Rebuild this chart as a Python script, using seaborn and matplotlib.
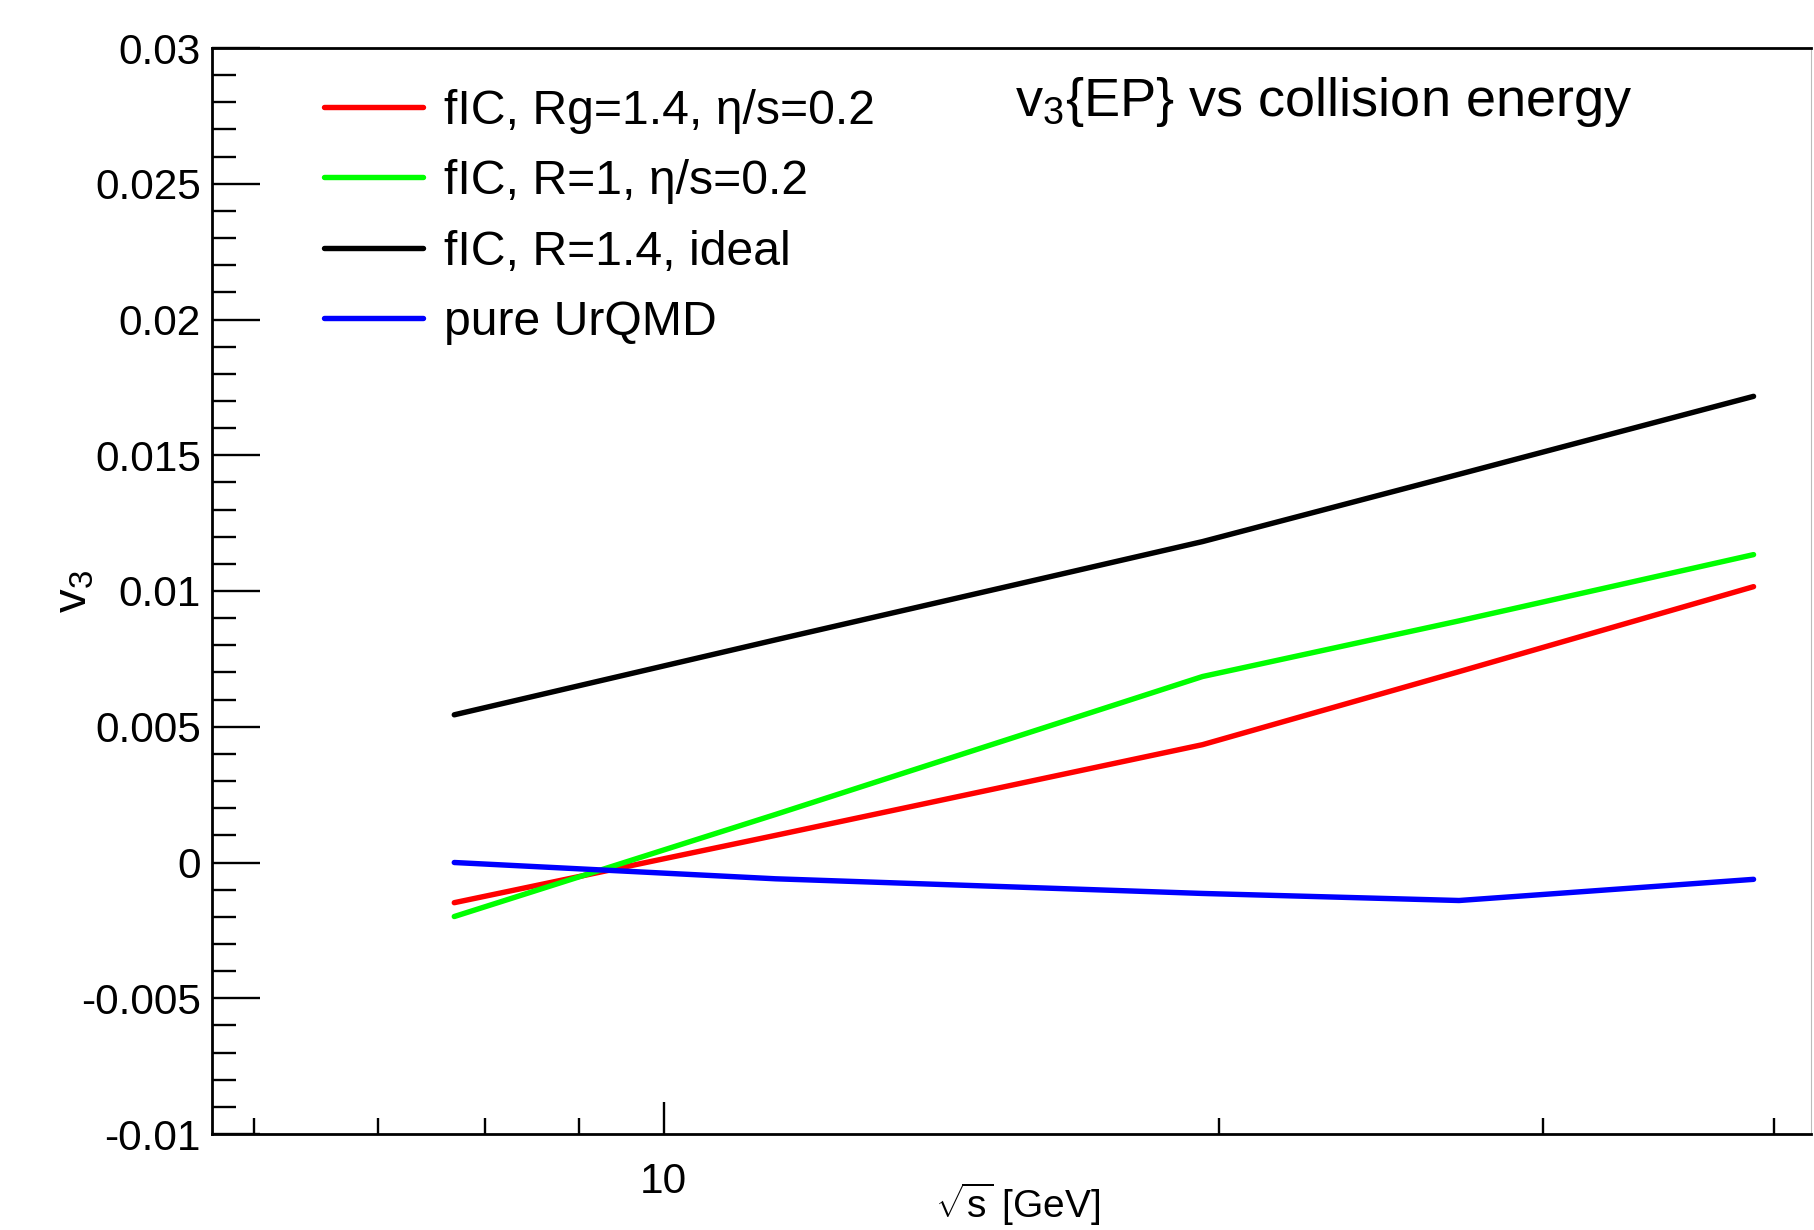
import numpy as np
import pandas as pd
import matplotlib
matplotlib.use("Agg")
import matplotlib.pyplot as plt
from matplotlib.ticker import FixedLocator, FixedFormatter, NullFormatter
import seaborn as sns

# ---- data ----
energy = [7.7, 11.5, 19.6, 27.0, 39.0]
v3_rg14_visc = [-0.00148, 0.00100, 0.00434, 0.00703, 0.01016]
v3_r1_visc = [-0.00199, 0.00177, 0.00685, 0.00890, 0.01134]
v3_r14_ideal = [0.00544, 0.00820, 0.01182, 0.01430, 0.01717]
v3_urqmd = [0.00000, -0.00060, -0.00114, -0.00140, -0.00062]

series_labels = ["fIC, Rg=1.4, η/s=0.2", "fIC, R=1, η/s=0.2",
                 "fIC, R=1.4, ideal", "pure UrQMD"]
series_colors = ["#ff0000", "#00ff00", "#000000", "#0000ff"]

y_major = [-0.01, -0.005, 0.0, 0.005, 0.01, 0.015, 0.02, 0.025, 0.03]
y_major_labels = ["-0.01", "-0.005", "0", "0.005", "0.01", "0.015", "0.02", "0.025", "0.03"]
x_major = [10]
x_major_labels = ["10"]
x_minor = [6, 7, 8, 9, 20, 30, 40]

title_text = r"v$_3${EP} vs collision energy"
xlabel_text = r"$\sqrt{s}$ [GeV]"
ylabel_text = r"v$_3$"

# ---- style ----
sns.set_theme(style="white")
plt.rcParams["font.family"] = ["Liberation Sans", "DejaVu Sans"]
plt.rcParams["mathtext.fontset"] = "custom"
plt.rcParams["mathtext.rm"] = "Liberation Sans"
plt.rcParams["mathtext.it"] = "Liberation Sans:italic"
plt.rcParams["mathtext.default"] = "regular"
plt.rcParams["text.color"] = "black"
plt.rcParams["axes.labelcolor"] = "black"
plt.rcParams["xtick.color"] = "black"
plt.rcParams["ytick.color"] = "black"

W, H = 1814, 1230
fig = plt.figure(figsize=(W / 100, H / 100), dpi=100)
fig.patch.set_facecolor("white")
ax = fig.add_axes([212 / W, 1 - 1134 / H, 1599 / W, 1086 / H])
ax.set_facecolor("white")

all_y = [v3_rg14_visc, v3_r1_visc, v3_r14_ideal, v3_urqmd]
frames = []
for lab, ys in zip(series_labels, all_y):
    frames.append(pd.DataFrame({"energy": energy, "v3": ys, "model": lab}))
df = pd.concat(frames, ignore_index=True)

sns.lineplot(data=df, x="energy", y="v3", hue="model", hue_order=series_labels,
             palette=series_colors, linewidth=3.9, sort=False, estimator=None,
             legend=False, ax=ax)

ax.set_xscale("log")
ax.set_xlim(5.69, 41.9)
ax.set_ylim(-0.01, 0.03)

# ticks
ax.yaxis.set_major_locator(FixedLocator(y_major))
ax.yaxis.set_major_formatter(FixedFormatter(y_major_labels))
ax.yaxis.set_minor_locator(FixedLocator(list(np.arange(-0.01, 0.0301, 0.001))))
ax.xaxis.set_major_locator(FixedLocator(x_major))
ax.xaxis.set_major_formatter(FixedFormatter(x_major_labels))
ax.xaxis.set_minor_locator(FixedLocator(x_minor))
ax.xaxis.set_minor_formatter(NullFormatter())

ax.tick_params(axis="y", which="major", direction="in", length=34.5, width=1.7,
               left=True, right=False, labelsize=30.5, pad=8, colors="black")
ax.tick_params(axis="y", which="minor", direction="in", length=17, width=1.7,
               left=True, right=False)
ax.tick_params(axis="x", which="major", direction="in", length=23, width=1.7,
               bottom=True, top=False, labelsize=30.5, pad=20, colors="black")
ax.tick_params(axis="x", which="minor", direction="in", length=11.5, width=1.7,
               bottom=True, top=False)

for s in ax.spines.values():
    s.set_visible(True)
    s.set_color("black")
    s.set_linewidth(2.0)
ax.spines["right"].set_color("#bbbbbb")
ax.spines["right"].set_linewidth(0.8)
ax.grid(False)

ax.set_xlabel("")
ax.set_ylabel("")
fig.text(935 / W, 1 - 1228 / H, xlabel_text, fontsize=28, ha="left", va="bottom")
fig.text(75 / W, 1 - 592 / H, ylabel_text, fontsize=34, rotation=90,
         ha="center", va="center")
fig.text(1015 / W, 1 - 102 / H, title_text, fontsize=39, ha="left", va="center")

handles = ax.get_lines()[:4]
leg = ax.legend(handles, series_labels, loc="upper left",
                bbox_to_anchor=(324 / W, 1 - 89 / H), bbox_transform=fig.transFigure,
                frameon=False, fontsize=34.7, handlelength=2.05, handletextpad=0.45,
                labelspacing=0.525, borderpad=0, borderaxespad=0)
for lh in leg.get_lines():
    lh.set_linewidth(3.9)

fig.savefig("out.png", dpi=100, facecolor="white")
